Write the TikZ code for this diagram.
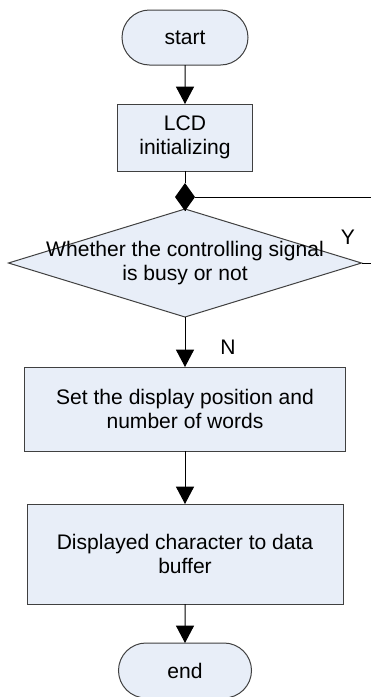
\documentclass[tikz,border=0pt]{standalone}
\usepackage{fontspec}
\setmainfont{Liberation Sans}
\usetikzlibrary{shapes.geometric,shapes.misc,arrows.meta}
\definecolor{boxfill}{HTML}{E8EEF8}
\definecolor{boxline}{HTML}{404040}
\begin{document}
\begin{tikzpicture}[x=0.75pt,y=-0.75pt,
  font=\fontsize{15.8}{18}\selectfont,
  every node/.style={inner sep=0pt,outer sep=0pt},
  terminal/.style={rounded rectangle,draw=boxline,fill=boxfill,line width=0.75pt,minimum width=94.5pt,minimum height=41.25pt},
  procbox/.style={rectangle,draw=boxline,fill=boxfill,line width=0.75pt,align=center},
  decision/.style={diamond,draw=boxline,fill=boxfill,line width=0.75pt,minimum width=264.75pt,minimum height=81pt},
  link/.style={draw=black,line width=0.75pt},
  arr/.style={link,-{Triangle[width=13.5pt,length=13pt]}},
  lbl/.style={font=\fontsize{15.8}{18}\selectfont}]
\useasboundingbox (0,0) rectangle (371,697);
\fill[white] (0,0) rectangle (371,697);
\node[terminal] (start) at (185,37.5) {start};
\node[procbox,minimum width=101.25pt,minimum height=50.25pt] (lcd) at (185,137.5) {LCD\\initializing};
\node[decision,label={[align=center,lbl]center:Whether the controlling signal\\is busy or not}] (dec) at (185,263) {};
\node[diamond,fill=black,minimum width=15pt,minimum height=21pt] (jn) at (185,197) {};
\node[procbox,minimum width=240.75pt,minimum height=63pt] (set) at (185,409) {Set the display position and\\number of words};
\node[procbox,minimum width=237pt,minimum height=75pt] (disp) at (185,554) {Displayed character to data\\buffer};
\node[terminal,minimum width=99.75pt] (end) at (185,670.5) {end};
\coordinate (loopB) at (385,263);
\coordinate (loopT) at (385,197);
\node[lbl] (ylab) at (348,237) {Y};
\node[lbl] (nlab) at (228,347) {N};
\draw[arr] (start) -- (lcd);
\draw[link] (lcd) -- (jn);
\draw[link] (jn) -- (dec.north);
\draw[link] (dec.east) -- (loopB) -- (loopT) -- (jn.east);
\draw[arr] (dec) -- (set);
\draw[arr] (set) -- (disp);
\draw[arr] (disp) -- (end);
\end{tikzpicture}
\end{document}
